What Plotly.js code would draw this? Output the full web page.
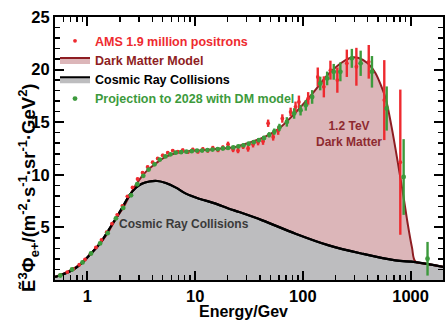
<!DOCTYPE html>
<html>
<head>
<meta charset="utf-8">
<script src="https://cdn.plot.ly/plotly-3.0.1.min.js"></script>
<style>html,body{margin:0;padding:0;background:#fff;}#chart{width:445px;height:321px;}</style>
</head>
<body>
<div id="chart"></div>
<script>
// Cosmic ray collisions (background) model
const crE = [0.5, 0.55, 0.73, 0.9, 1.08, 1.31, 1.6, 1.84, 2.12, 2.45, 2.8, 3.2, 3.75, 4.45, 5.34, 6.63, 8.21, 10.9, 15.5, 20.6, 25.6, 42.1, 85.5, 174, 355, 722, 1110, 2000];
const crY = [0.3, 0.43, 0.95, 1.67, 2.52, 3.48, 4.87, 5.86, 6.93, 8.05, 8.75, 9.15, 9.36, 9.41, 9.22, 8.78, 8.21, 7.73, 7.26, 6.78, 6.46, 5.67, 4.4, 3.29, 2.5, 1.86, 1.7, 1.25];

// Dark matter model (total)
const dmE = [0.5, 0.6, 0.72, 0.9, 1.08, 1.31, 1.54, 1.84, 2.15, 2.45, 2.8, 3.2, 3.5, 4.3, 5.3, 7.1, 10, 15.5, 23.7, 29.5, 42, 60, 85, 122, 174, 232, 285, 330, 400, 470, 540, 586, 665, 778, 860, 942, 1030, 1110, 1400, 2000];
const dmY = [0.3, 0.6, 1.0, 1.67, 2.52, 3.48, 4.45, 5.86, 6.88, 7.98, 9.0, 9.85, 10.3, 11.07, 11.7, 12.15, 12.3, 12.45, 12.65, 12.95, 13.5, 14.4, 15.9, 17.7, 19.6, 20.7, 21.15, 21.1, 20.6, 19.7, 18.3, 17.3, 14.6, 10.6, 7.9, 5.3, 3.1, 1.75, 1.55, 1.25];

// AMS 1.9 million positrons
const amsE = [0.56, 0.65, 0.74, 0.84, 0.95, 1.07, 1.2, 1.35, 1.51, 1.69, 1.89, 2.11, 2.35, 2.62, 2.92, 3.25, 3.62, 4.03, 4.49, 5.0, 5.57, 6.2, 6.9, 7.68, 8.55, 9.52, 10.6, 11.8, 13.1, 14.6, 16.3, 18.1, 20.2, 22.5, 25.0, 27.9, 31.0, 34.5, 38.4, 42.7, 47.6, 53.0, 59.0, 64.5, 77.0, 85.5, 91.9, 112, 137.5, 156.6, 180.3, 209, 256, 314, 409, 570, 803];
const amsY = [0.45, 0.75, 1.05, 1.45, 1.95, 2.5, 3.1, 3.8, 4.55, 5.35, 6.2, 7.05, 7.95, 8.8, 9.6, 10.2, 10.75, 11.2, 11.55, 11.85, 12.1, 12.3, 12.2, 12.35, 12.15, 12.4, 12.2, 12.45, 12.3, 12.55, 12.35, 12.6, 12.9, 12.4, 12.3, 12.7, 12.5, 12.9, 13.1, 13.2, 14.9, 13.6, 14.2, 15.35, 15.98, 16.46, 16.93, 17.26, 19.3, 18.36, 19.95, 19.0, 20.6, 20.27, 20.74, 17.1, 11.2];
const amsErr = [0.08, 0.08, 0.08, 0.08, 0.08, 0.08, 0.08, 0.1, 0.1, 0.1, 0.1, 0.1, 0.1, 0.12, 0.12, 0.12, 0.12, 0.12, 0.12, 0.15, 0.15, 0.15, 0.15, 0.15, 0.15, 0.18, 0.18, 0.18, 0.2, 0.2, 0.2, 0.2, 0.25, 0.25, 0.25, 0.25, 0.3, 0.3, 0.3, 0.35, 0.35, 0.35, 0.4, 0.4, 0.4, 0.5, 0.6, 0.6, 0.9, 1.0, 0.9, 1.2, 1.3, 1.8, 1.6, 3.8, 6.9];

// Projection to 2028 with DM model
const projE = [0.56, 0.72, 0.9, 1.08, 1.31, 1.54, 1.84, 2.15, 2.54, 2.9, 3.3, 3.7, 4.2, 4.7, 5.3, 5.9, 6.6, 7.4, 8.3, 9.3, 10.4, 11.6, 13.0, 14.5, 16.2, 18.1, 20.2, 22.6, 25.2, 28.1, 31.4, 35.0, 39.1, 43.6, 48.7, 54.3, 60.6, 71, 83, 95.2, 106.5, 122, 145, 168, 193.5, 223, 285, 344, 438, 600, 862, 1437];
const projY = [0.43, 1.0, 1.67, 2.52, 3.48, 4.45, 5.86, 6.85, 8.05, 9.1, 9.9, 10.5, 11.0, 11.45, 11.75, 11.95, 12.1, 12.15, 12.2, 12.25, 12.3, 12.3, 12.35, 12.4, 12.45, 12.5, 12.55, 12.6, 12.7, 12.8, 12.95, 13.1, 13.3, 13.5, 13.8, 14.1, 14.5, 15.03, 15.83, 16.14, 16.6, 17.4, 18.68, 19.16, 19.79, 19.79, 21.07, 20.6, 19.79, 16.3, 9.79, 2.02];
const projErr = [0.06, 0.06, 0.06, 0.06, 0.06, 0.06, 0.06, 0.06, 0.06, 0.06, 0.06, 0.06, 0.06, 0.06, 0.08, 0.08, 0.08, 0.08, 0.08, 0.08, 0.1, 0.1, 0.1, 0.1, 0.12, 0.12, 0.12, 0.12, 0.15, 0.15, 0.15, 0.18, 0.2, 0.2, 0.25, 0.3, 0.35, 0.45, 0.5, 0.5, 0.5, 0.65, 0.65, 0.65, 0.75, 0.9, 0.9, 1.2, 1.5, 2.1, 3.6, 1.6];

const xTicks = [1, 10, 100, 1000];
const yTicks = [5, 10, 15, 20, 25];
const xMinor = [0.5,0.6,0.7,0.8,0.9,2,3,4,5,6,7,8,9,20,30,40,50,60,70,80,90,200,300,400,500,600,700,800,900,2000];

const F = '"Liberation Sans", Arial, Helvetica, sans-serif';
const RED = '#ee2a2f', DRED = '#8e1d22', GREEN = '#3c9a3c';

const data = [
  { x: crE, y: crY, type: 'scatter', mode: 'lines', line: {color: '#000', width: 2.2, shape: 'spline'},
    fill: 'tozeroy', fillcolor: '#bdbdbf', showlegend: false, hoverinfo: 'skip' },
  { x: dmE, y: dmY, type: 'scatter', mode: 'lines', line: {color: DRED, width: 2, shape: 'spline'},
    fill: 'tonexty', fillcolor: '#dcb6b9', showlegend: false, hoverinfo: 'skip' },
  { x: crE, y: crY, type: 'scatter', mode: 'lines', line: {color: '#000', width: 2.2, shape: 'spline'}, showlegend: false },
  { x: amsE, y: amsY, type: 'scatter', mode: 'markers', name: '<span style="color:' + RED + '">AMS 1.9 million positrons</span>',
    marker: {color: RED, size: 3.8}, error_y: {type: 'data', array: amsErr, color: RED, thickness: 2.4, width: 0} },
  { x: [null], y: [null], type: 'scatter', mode: 'lines', name: '<span style="color:' + DRED + '">Dark Matter Model</span>',
    line: {color: DRED, width: 2}, fill: 'tozeroy', fillcolor: '#dcb6b9' },
  { x: [null], y: [null], type: 'scatter', mode: 'lines', name: '<span style="color:#000">Cosmic Ray Collisions</span>',
    line: {color: '#000', width: 2}, fill: 'tozeroy', fillcolor: '#bdbdbf' },
  { x: projE, y: projY, type: 'scatter', mode: 'markers', name: '<span style="color:' + GREEN + '">Projection to 2028 with DM model</span>',
    marker: {color: GREEN, size: 4.8}, error_y: {type: 'data', array: projErr, color: GREEN, thickness: 2.4, width: 0} }
];

const layout = {
  width: 445, height: 321,
  margin: {l: 55, r: 2, t: 17, b: 41},
  paper_bgcolor: '#fff', plot_bgcolor: '#fff',
  font: {family: F, size: 15, color: '#000'},
  showlegend: true,
  legend: {x: 0.0, y: 0.965, xanchor: 'left', yanchor: 'top', bgcolor: 'rgba(0,0,0,0)',
    font: {family: F, size: 12.5, weight: 'bold'}, traceorder: 'normal', itemwidth: 30},
  xaxis: {type: 'log', range: [Math.log10(0.5), Math.log10(2000)], tickmode: 'array', tickvals: xTicks,
    ticktext: xTicks.map(String), ticks: 'inside', ticklen: 9, tickwidth: 2, tickcolor: '#000',
    showline: true, linecolor: '#000', linewidth: 2, mirror: 'allticks', showgrid: false, zeroline: false,
    tickfont: {family: F, size: 16.5, weight: 'bold'},
    minor: {tickmode: 'array', tickvals: xMinor, ticks: 'inside', ticklen: 5, tickwidth: 1.5, tickcolor: '#000', showgrid: false}},
  yaxis: {range: [0, 25], tickmode: 'array', tickvals: yTicks, ticktext: yTicks.map(String),
    ticks: 'inside', ticklen: 9, tickwidth: 2, tickcolor: '#000',
    showline: true, linecolor: '#000', linewidth: 2, mirror: 'allticks', showgrid: false, zeroline: false,
    tickfont: {family: F, size: 16.5, weight: 'bold'},
    minor: {dtick: 1, ticks: 'inside', ticklen: 5, tickwidth: 1.5, tickcolor: '#000', showgrid: false}},
  annotations: [
    {x: -0.067, y: 0.35, xref: 'paper', yref: 'paper', xanchor: 'center', yanchor: 'middle', textangle: -90,
      text: 'Ẽ<sup>3</sup>Φ<sub>e+</sub>/(m<sup>-2</sup>·s<sup>-1</sup>·sr<sup>-1</sup>·GeV<sup>2</sup>)', showarrow: false,
      font: {family: F, size: 18.5, weight: 'bold', color: '#000'}},
    {x: 0.485, y: -0.118, xref: 'paper', yref: 'paper', xanchor: 'center', yanchor: 'middle',
      text: 'Energy/Gev', showarrow: false, font: {family: F, size: 16, weight: 'bold', color: '#000'}},
    {x: Math.log10(7.9), y: 5.3, xref: 'x', yref: 'y', text: 'Cosmic Ray Collisions', showarrow: false,
      font: {family: F, size: 12, weight: 'bold', color: '#3a3a3a'}},
    {x: Math.log10(267), y: 13.9, xref: 'x', yref: 'y', text: '1.2 TeV<br>Dark Matter', showarrow: false,
      font: {family: F, size: 12, weight: 'bold', color: '#8e2a30'}}
  ]
};

Plotly.newPlot('chart', data, layout, {displayModeBar: false, staticPlot: true});
</script>
</body>
</html>
